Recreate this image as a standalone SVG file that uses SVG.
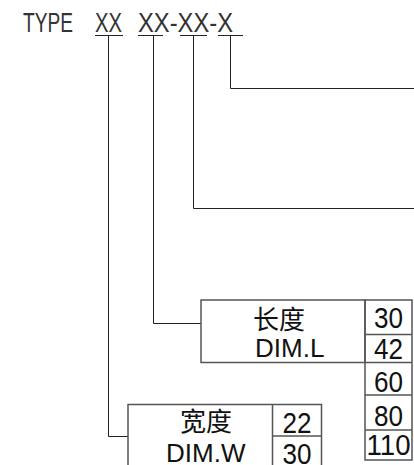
<svg xmlns="http://www.w3.org/2000/svg" width="414" height="465" viewBox="0 0 414 465">
<style>
.code{font-family:"Liberation Sans",Arial,sans-serif;font-size:27px;fill:#333;}
.lbl{font-family:"Liberation Sans","Noto Sans CJK SC",sans-serif;font-size:26px;fill:#111;}
.num{font-family:"Liberation Sans",Arial,sans-serif;font-size:29px;fill:#111;text-anchor:middle;}
.ln{stroke:#222;stroke-width:1;fill:none;}
.box{stroke:#555;stroke-width:1.5;fill:none;}
</style>
<rect width="414" height="465" fill="#fff"/>
<g id="header">
<text class="code" x="23" y="32" textLength="50" lengthAdjust="spacingAndGlyphs">TYPE</text>
<text class="code" x="95" y="32" textLength="27" lengthAdjust="spacingAndGlyphs">XX</text>
<text class="code" x="138" y="32" textLength="95" lengthAdjust="spacingAndGlyphs">XX-XX-X</text>
<path class="ln" d="M95 35.5H123M138 35.5H163M180 35.5H207M218 35.5H243"/>
</g>
<g id="connectors">
<path class="ln" d="M230.5 35.5V88.5H414"/>
<path class="ln" d="M193.5 35.5V208.5H414"/>
<path class="ln" d="M153.5 35.5V323.5H201"/>
<path class="ln" d="M108.5 35.5V436.5H128"/>
</g>
<g id="dim-l">
<rect class="box" x="201" y="300" width="164" height="62.5"/>
<text class="lbl" x="253" y="329">长度</text>
<text class="lbl" x="255" y="357">DIM.L</text>
<path class="box" d="M365 300H412V460H365ZM365 334.5H412M365 362.5H412M365 395H412M365 430H412"/>
<text class="num" x="388.5" y="328" textLength="29" lengthAdjust="spacingAndGlyphs">30</text>
<text class="num" x="388.5" y="359" textLength="29" lengthAdjust="spacingAndGlyphs">42</text>
<text class="num" x="388.5" y="392" textLength="29" lengthAdjust="spacingAndGlyphs">60</text>
<text class="num" x="388.5" y="426" textLength="29" lengthAdjust="spacingAndGlyphs">80</text>
<text class="num" x="388.5" y="455" textLength="44" lengthAdjust="spacingAndGlyphs">110</text>
</g>
<g id="dim-w">
<path class="box" d="M128 470V404.5H272.5V470M272.5 404.5H321.5V470M272.5 436H321.5"/>
<text class="lbl" x="180" y="431">宽度</text>
<text class="lbl" x="166" y="462">DIM.W</text>
<text class="num" x="297" y="433" textLength="29" lengthAdjust="spacingAndGlyphs">22</text>
<text class="num" x="297" y="464" textLength="29" lengthAdjust="spacingAndGlyphs">30</text>
</g>
</svg>
